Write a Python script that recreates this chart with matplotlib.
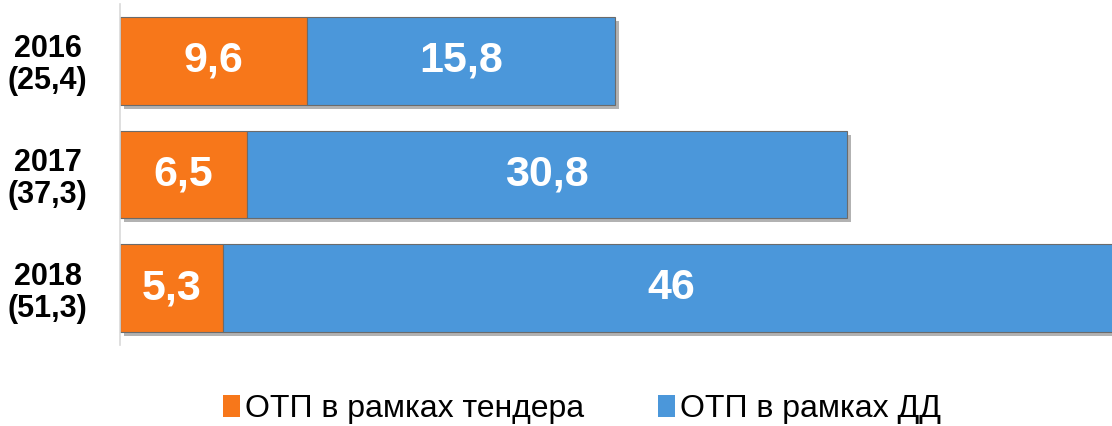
import matplotlib.pyplot as plt
import matplotlib.patheffects as pe
from matplotlib.patches import Patch

plt.rcParams['font.family'] = ['Liberation Sans', 'DejaVu Sans']

years = ['2016\n(25,4)', '2017\n(37,3)', '2018\n(51,3)']
tender = [9.6, 6.5, 5.3]
dd = [15.8, 30.8, 46]
tender_labels = ['9,6', '6,5', '5,3']
dd_labels = ['15,8', '30,8', '46']

orange = '#F7771A'
blue = '#4B97DA'

fig = plt.figure(figsize=(11.12, 4.26), dpi=100)
ax = fig.add_axes([120 / 1112, 1 - 345 / 426, 992 / 1112, 341 / 426])

shadow = [pe.SimplePatchShadow(offset=(3, -3), shadow_rgbFace='#555555', alpha=0.45), pe.Normal()]
pos = range(len(years))
b1 = ax.barh(pos, tender, height=0.77, color=orange, edgecolor='#6b6b6b', linewidth=0.8)
b2 = ax.barh(pos, dd, left=tender, height=0.77, color=blue, edgecolor='#6b6b6b', linewidth=0.8)
for b in list(b1) + list(b2):
    b.set_path_effects(shadow)

for i in pos:
    ax.text(tender[i] / 2, i, tender_labels[i], ha='center', va='center',
            color='white', fontsize=31, fontweight='bold')
    ax.text(tender[i] + dd[i] / 2, i, dd_labels[i], ha='center', va='center',
            color='white', fontsize=31, fontweight='bold')

ax.set_xlim(0, 50.9)
ax.set_ylim(2.5, -0.5)
ax.set_yticks(list(pos))
ax.set_yticklabels(years, fontsize=22, fontweight='bold', linespacing=1.08, ha='center')
ax.tick_params(axis='y', length=0, pad=52)
ax.set_xticks([])
for s in ['top', 'right', 'bottom']:
    ax.spines[s].set_visible(False)
ax.spines['left'].set_color('#d9d9d9')
ax.spines['left'].set_linewidth(1.2)

handles = [Patch(facecolor=orange, label='ОТП в рамках тендера'),
           Patch(facecolor=blue, label='ОТП в рамках ДД')]
fig.legend(handles=handles, loc='center', bbox_to_anchor=(582 / 1112, 1 - 409 / 426),
           ncol=2, frameon=False, fontsize=23, handlelength=0.55, handleheight=0.7,
           handletextpad=0.15, columnspacing=2.3)

fig.savefig('out.png', dpi=100)
